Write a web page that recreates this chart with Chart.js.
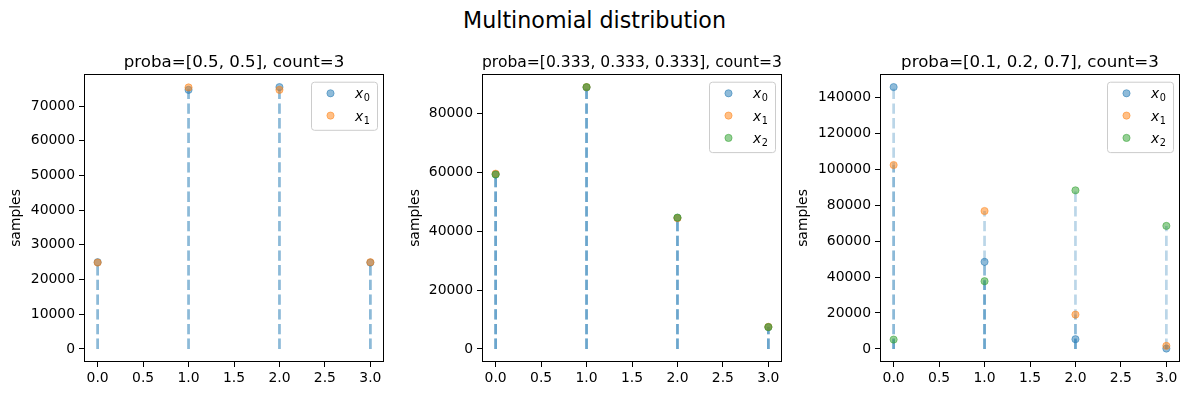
<!DOCTYPE html>
<html>
<head>
<meta charset="utf-8">
<script src="https://cdn.jsdelivr.net/npm/chart.js@4.4.1/dist/chart.umd.min.js"></script>
<style>
  html, body { margin: 0; padding: 0; background: #fff; overflow: hidden; }
  body { width: 1189px; height: 396px; position: relative; }
  #suptitle {
    position: absolute; left: 0; top: 7px; width: 1189px; text-align: center;
    font-family: 'DejaVu Sans', sans-serif; font-size: 22.2px; line-height: 26px; color: #000;
  }
  .panel { position: absolute; top: 0; width: 396px; height: 396px; }
</style>
</head>
<body>
<div id="suptitle">Multinomial distribution</div>
<div class="panel" style="left:-6px"><canvas id="c1"></canvas></div>
<div class="panel" style="left:392px"><canvas id="c2"></canvas></div>
<div class="panel" style="left:790px"><canvas id="c3"></canvas></div>
<script>
// values at k = 0..3 for each component, one small array per series
const xValues = [0, 1, 2, 3];
const xTicks = [0, 0.5, 1, 1.5, 2, 2.5, 3];

const title1 = 'proba=[0.5, 0.5], count=3';
const p1x0 = [25000, 74700, 75500, 24900];
const p1x1 = [24900, 75400, 74700, 25000];
const yTicks1 = [0, 10000, 20000, 30000, 40000, 50000, 60000, 70000];

const title2 = 'proba=[0.333, 0.333, 0.333], count=3';
const p2x0 = [59300, 88800, 44500, 7400];
const p2x1 = [59500, 88900, 44400, 7500];
const p2x2 = [59200, 88900, 44600, 7400];
const yTicks2 = [0, 20000, 40000, 60000, 80000];

const title3 = 'proba=[0.1, 0.2, 0.7], count=3';
const p3x0 = [145800, 48500, 5400, 200];
const p3x1 = [102400, 76800, 19100, 1700];
const p3x2 = [5200, 37700, 88300, 68500];
const yTicks3 = [0, 20000, 40000, 60000, 80000, 100000, 120000, 140000];

const seriesSubs = ['0', '1', '2'];
const colors = ['31,119,180', '255,127,14', '44,160,44'];

Chart.defaults.font.family = "'DejaVu Sans', sans-serif";
Chart.defaults.color = '#000';

const FONT = 13.9;

// axes frame + legend box drawn on top, matplotlib style
const frameAndLegend = {
  id: 'frameAndLegend',
  afterDraw(chart) {
    const ctx = chart.ctx, ca = chart.chartArea;
    ctx.save();
    ctx.strokeStyle = '#000';
    ctx.lineWidth = 1;
    ctx.strokeRect(Math.round(ca.left) + 0.5, Math.round(ca.top) + 0.5,
      Math.round(ca.right - ca.left) - 1, Math.round(ca.bottom - ca.top) - 1);

    const n = chart.options.plugins.frameAndLegend.n;
    const w = 66, h = 3.5 + n * 22.3;
    const bx = ca.right - 7 - w, by = ca.top + 7.7;
    ctx.beginPath();
    ctx.roundRect(bx + 0.5, by + 0.5, w, h, 3);
    ctx.fillStyle = 'rgba(255,255,255,0.8)';
    ctx.fill();
    ctx.strokeStyle = '#cccccc';
    ctx.stroke();
    for (let i = 0; i < n; i++) {
      const cy = by + 11.6 + i * 22.3;
      ctx.beginPath();
      ctx.arc(bx + 19.5, cy, 3.6, 0, Math.PI * 2);
      ctx.fillStyle = 'rgba(' + colors[i] + ',0.5)';
      ctx.fill();
      ctx.lineWidth = 1;
      ctx.strokeStyle = 'rgba(' + colors[i] + ',0.5)';
      ctx.stroke();
      ctx.fillStyle = '#000';
      ctx.textBaseline = 'alphabetic';
      ctx.textAlign = 'left';
      ctx.font = "italic " + FONT + "px 'DejaVu Sans'";
      const tx = bx + 44;
      ctx.fillText('x', tx, cy + 5);
      const xw = ctx.measureText('x').width;
      ctx.font = "9.7px 'DejaVu Sans'";
      ctx.fillText(seriesSubs[i], tx + xw + 0.5, cy + 8);
    }
    ctx.restore();
  }
};

function makePanel(id, title, series, yTicks, ylabelPad) {
  const datasets = [];
  series.forEach((vals, i) => {
    datasets.push({
      type: 'scatter',
      data: xValues.map((x, j) => ({ x: x, y: vals[j] })),
      backgroundColor: 'rgba(' + colors[i] + ',0.5)',
      borderColor: 'rgba(' + colors[i] + ',0.5)',
      borderWidth: 1,
      pointRadius: 3.6,
      order: -i
    });
  });
  series.forEach((vals) => {
    const pts = [];
    xValues.forEach((x, j) => {
      pts.push({ x: x, y: 0 }, { x: x, y: vals[j] }, { x: x, y: null });
    });
    datasets.push({
      type: 'line',
      data: pts,
      borderColor: 'rgba(31,119,180,0.3)',
      borderWidth: 2.7,
      borderDash: [10.3, 4.4],
      pointRadius: 0,
      spanGaps: false,
      fill: false,
      order: 10
    });
  });

  const all = series.flat();
  const yLo = Math.min(0, ...all), yHi = Math.max(...all);
  const ym = (yHi - yLo) * 0.05;
  const xm = (xValues[xValues.length - 1] - xValues[0]) * 0.05;

  new Chart(document.getElementById(id), {
    type: 'scatter',
    data: { datasets },
    options: {
      responsive: true,
      maintainAspectRatio: false,
      animation: false,
      events: [],
      layout: { padding: { top: 53, left: 0, right: 6, bottom: 0 } },
      plugins: {
        legend: { display: false },
        tooltip: { enabled: false },
        title: {
          display: true, text: title, fullSize: false, color: '#000',
          font: { size: 16.67, weight: 'normal' },
          padding: { top: 0, bottom: 1 }
        },
        frameAndLegend: { n: series.length }
      },
      scales: {
        x: {
          type: 'linear', min: xValues[0] - xm, max: xValues[xValues.length - 1] + xm,
          afterBuildTicks: s => { s.ticks = xTicks.map(v => ({ value: v })); },
          afterFit: s => { s.height = 34; },
          grid: { drawOnChartArea: false, drawTicks: true, tickLength: 5, color: '#000', tickWidth: 1 },
          border: { display: false },
          ticks: { font: { size: FONT }, padding: 3, maxRotation: 0, autoSkip: false,
            callback: v => v.toFixed(1) }
        },
        y: {
          type: 'linear', min: yLo - ym, max: yHi + ym,
          afterBuildTicks: s => { s.ticks = yTicks.map(v => ({ value: v })); },
          afterFit: s => { s.width = 90; },
          grid: { drawOnChartArea: false, drawTicks: true, tickLength: 5, color: '#000', tickWidth: 1 },
          border: { display: false },
          ticks: { font: { size: FONT }, padding: 4, autoSkip: false,
            callback: v => String(v) },
          title: { display: true, text: 'samples', font: { size: FONT }, padding: { top: ylabelPad, bottom: 0 } }
        }
      }
    },
    plugins: [frameAndLegend]
  });
}

makePanel('c1', title1, [p1x0, p1x1], yTicks1, 14.4);
makePanel('c2', title2, [p2x0, p2x1, p2x2], yTicks2, 14.7);
makePanel('c3', title3, [p3x0, p3x1, p3x2], yTicks3, 4.7);
</script>
</body>
</html>
